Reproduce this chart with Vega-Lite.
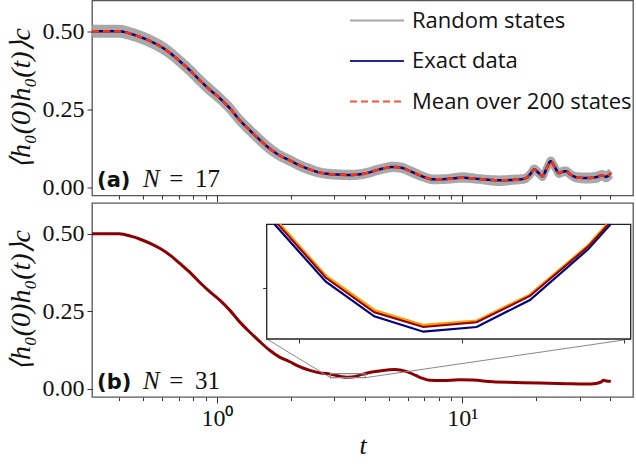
{
"$schema": "https://vega.github.io/schema/vega-lite/v6.json",
"padding": {"left": 6, "top": -7.5, "right": 1, "bottom": 1},
"background": "white",
"spacing": 7.5,
"bounds": "flush",
"config": {
  "view": {"stroke": "#555555", "strokeWidth": 1.3},
  "axis": {"domain": false, "grid": false, "tickColor": "#333333", "tickWidth": 1, "labelFont": "Liberation Serif, Times New Roman, serif", "labelFontSize": 24, "labelColor": "#111111", "titleFont": "Liberation Serif, Times New Roman, serif", "titleFontStyle": "italic", "titleFontWeight": "normal", "titleFontSize": 28, "titleColor": "#111111"},
  "legend": {"labelFont": "Open Sans", "labelFontSize": 22, "labelColor": "#111111", "labelLimit": 0}
},
"datasets": {
  "top": [
    {"t":0.31,"r1":0.512,"r2":0.490,"exact":0.501,"mean":0.501},
    {"t":0.40,"r1":0.512,"r2":0.490,"exact":0.501,"mean":0.501},
    {"t":0.45,"r1":0.503,"r2":0.481,"exact":0.492,"mean":0.492},
    {"t":0.49,"r1":0.493,"r2":0.471,"exact":0.482,"mean":0.482},
    {"t":0.54,"r1":0.479,"r2":0.457,"exact":0.468,"mean":0.468},
    {"t":0.59,"r1":0.463,"r2":0.441,"exact":0.452,"mean":0.452},
    {"t":0.65,"r1":0.439,"r2":0.419,"exact":0.429,"mean":0.429},
    {"t":0.71,"r1":0.413,"r2":0.393,"exact":0.403,"mean":0.403},
    {"t":0.78,"r1":0.384,"r2":0.364,"exact":0.374,"mean":0.374},
    {"t":0.85,"r1":0.354,"r2":0.334,"exact":0.344,"mean":0.344},
    {"t":0.94,"r1":0.322,"r2":0.302,"exact":0.312,"mean":0.312},
    {"t":1.03,"r1":0.294,"r2":0.276,"exact":0.285,"mean":0.285},
    {"t":1.13,"r1":0.262,"r2":0.244,"exact":0.253,"mean":0.253},
    {"t":1.24,"r1":0.224,"r2":0.206,"exact":0.215,"mean":0.215},
    {"t":1.36,"r1":0.192,"r2":0.174,"exact":0.183,"mean":0.183},
    {"t":1.50,"r1":0.160,"r2":0.142,"exact":0.151,"mean":0.151},
    {"t":1.64,"r1":0.133,"r2":0.115,"exact":0.124,"mean":0.124},
    {"t":1.80,"r1":0.110,"r2":0.094,"exact":0.102,"mean":0.102},
    {"t":1.98,"r1":0.094,"r2":0.078,"exact":0.086,"mean":0.086},
    {"t":2.17,"r1":0.078,"r2":0.062,"exact":0.070,"mean":0.070},
    {"t":2.39,"r1":0.065,"r2":0.049,"exact":0.057,"mean":0.057},
    {"t":2.62,"r1":0.054,"r2":0.040,"exact":0.047,"mean":0.047},
    {"t":2.88,"r1":0.049,"r2":0.035,"exact":0.042,"mean":0.042},
    {"t":3.16,"r1":0.047,"r2":0.033,"exact":0.040,"mean":0.040},
    {"t":3.48,"r1":0.046,"r2":0.032,"exact":0.039,"mean":0.039},
    {"t":3.81,"r1":0.048,"r2":0.034,"exact":0.041,"mean":0.041},
    {"t":4.12,"r1":0.053,"r2":0.039,"exact":0.046,"mean":0.046},
    {"t":4.46,"r1":0.061,"r2":0.047,"exact":0.054,"mean":0.054},
    {"t":4.83,"r1":0.068,"r2":0.054,"exact":0.061,"mean":0.061},
    {"t":5.21,"r1":0.072,"r2":0.058,"exact":0.065,"mean":0.065},
    {"t":5.72,"r1":0.068,"r2":0.054,"exact":0.061,"mean":0.061},
    {"t":6.10,"r1":0.059,"r2":0.045,"exact":0.052,"mean":0.052},
    {"t":6.47,"r1":0.050,"r2":0.036,"exact":0.043,"mean":0.043},
    {"t":7.00,"r1":0.038,"r2":0.026,"exact":0.032,"mean":0.032},
    {"t":7.57,"r1":0.031,"r2":0.019,"exact":0.025,"mean":0.025},
    {"t":8.58,"r1":0.032,"r2":0.020,"exact":0.026,"mean":0.026},
    {"t":10.0,"r1":0.038,"r2":0.024,"exact":0.030,"mean":0.030},
    {"t":11.7,"r1":0.032,"r2":0.020,"exact":0.026,"mean":0.026},
    {"t":14.1,"r1":0.028,"r2":0.013,"exact":0.022,"mean":0.022},
    {"t":16.0,"r1":0.030,"r2":0.017,"exact":0.023,"mean":0.023},
    {"t":17.9,"r1":0.033,"r2":0.021,"exact":0.027,"mean":0.027},
    {"t":18.8,"r1":0.046,"r2":0.034,"exact":0.040,"mean":0.040},
    {"t":19.6,"r1":0.063,"r2":0.051,"exact":0.057,"mean":0.057},
    {"t":20.4,"r1":0.052,"r2":0.040,"exact":0.046,"mean":0.046},
    {"t":21.2,"r1":0.041,"r2":0.029,"exact":0.035,"mean":0.035},
    {"t":22.0,"r1":0.066,"r2":0.054,"exact":0.060,"mean":0.060},
    {"t":22.9,"r1":0.089,"r2":0.077,"exact":0.083,"mean":0.083},
    {"t":23.8,"r1":0.070,"r2":0.058,"exact":0.064,"mean":0.064},
    {"t":24.7,"r1":0.051,"r2":0.039,"exact":0.045,"mean":0.045},
    {"t":25.5,"r1":0.055,"r2":0.043,"exact":0.049,"mean":0.049},
    {"t":26.4,"r1":0.057,"r2":0.045,"exact":0.051,"mean":0.051},
    {"t":27.6,"r1":0.046,"r2":0.034,"exact":0.040,"mean":0.040},
    {"t":29.0,"r1":0.039,"r2":0.025,"exact":0.032,"mean":0.032},
    {"t":31.9,"r1":0.037,"r2":0.021,"exact":0.029,"mean":0.029},
    {"t":35.0,"r1":0.040,"r2":0.023,"exact":0.032,"mean":0.032},
    {"t":37.1,"r1":0.045,"r2":0.031,"exact":0.038,"mean":0.038},
    {"t":38.4,"r1":0.042,"r2":0.025,"exact":0.033,"mean":0.033},
    {"t":40.2,"r1":0.052,"r2":0.038,"exact":0.045,"mean":0.045}
  ],
  "bottom": [
    {"t":0.31,"v":0.501},{"t":0.40,"v":0.501},{"t":0.45,"v":0.492},{"t":0.49,"v":0.482},
    {"t":0.54,"v":0.468},{"t":0.59,"v":0.452},{"t":0.65,"v":0.429},{"t":0.71,"v":0.403},
    {"t":0.78,"v":0.374},{"t":0.85,"v":0.344},{"t":0.94,"v":0.312},{"t":1.03,"v":0.285},
    {"t":1.13,"v":0.253},{"t":1.24,"v":0.215},{"t":1.36,"v":0.183},{"t":1.50,"v":0.151},
    {"t":1.64,"v":0.124},{"t":1.80,"v":0.102},{"t":1.98,"v":0.087},{"t":2.17,"v":0.071},
    {"t":2.39,"v":0.059},{"t":2.62,"v":0.051},{"t":2.80,"v":0.049},{"t":2.94,"v":0.046},
    {"t":3.08,"v":0.0424},{"t":3.23,"v":0.0385},{"t":3.38,"v":0.0369},{"t":3.55,"v":0.0374},
    {"t":3.71,"v":0.0404},{"t":3.89,"v":0.046},{"t":4.07,"v":0.050},{"t":4.40,"v":0.055},
    {"t":4.74,"v":0.059},{"t":5.29,"v":0.062},{"t":5.90,"v":0.056},{"t":6.48,"v":0.042},
    {"t":6.90,"v":0.033},{"t":7.35,"v":0.027},{"t":8.31,"v":0.026},{"t":9.73,"v":0.029},
    {"t":11.0,"v":0.028},{"t":13.3,"v":0.022},{"t":16.5,"v":0.020},{"t":20.5,"v":0.018},
    {"t":26.4,"v":0.016},{"t":31.8,"v":0.015},{"t":35.0,"v":0.017},{"t":36.8,"v":0.022},
    {"t":37.6,"v":0.027},{"t":38.5,"v":0.025},{"t":40.2,"v":0.024}
  ],
  "inset": [
    {"s":"navy","t":2.924,"v":0.0485},{"s":"navy","t":3.082,"v":0.04199},{"s":"navy","t":3.231,"v":0.03807},
    {"s":"navy","t":3.382,"v":0.03633},{"s":"navy","t":3.546,"v":0.03686},{"s":"navy","t":3.710,"v":0.03992},
    {"s":"navy","t":3.889,"v":0.04567},{"s":"navy","t":3.958,"v":0.0485},
    {"s":"orange","t":2.940,"v":0.0485},{"s":"orange","t":3.082,"v":0.04264},{"s":"orange","t":3.231,"v":0.03875},
    {"s":"orange","t":3.382,"v":0.03705},{"s":"orange","t":3.546,"v":0.03754},{"s":"orange","t":3.710,"v":0.04049},
    {"s":"orange","t":3.889,"v":0.04607},{"s":"orange","t":3.948,"v":0.0485},
    {"s":"darkred","t":2.935,"v":0.0485},{"s":"darkred","t":3.082,"v":0.04244},{"s":"darkred","t":3.231,"v":0.03853},
    {"s":"darkred","t":3.382,"v":0.03687},{"s":"darkred","t":3.546,"v":0.03740},{"s":"darkred","t":3.710,"v":0.04038},
    {"s":"darkred","t":3.889,"v":0.04597},{"s":"darkred","t":3.951,"v":0.0485}
  ]
},
"vconcat": [
  {
    "width": 541, "height": 195,
    "layer": [
      {"data": {"name": "top"},
       "transform": [{"fold": ["r1","r2"], "as": ["key","v"]}],
       "mark": {"type": "line", "strokeWidth": 6, "interpolate": "monotone", "opacity": 0.85},
       "encoding": {
         "x": {"field": "t", "type": "quantitative", "scale": {"type": "log", "domain": [0.31, 49.5], "nice": false},
               "axis": {"values": [0.4,0.5,0.6,0.7,0.8,0.9,1,2,3,4,5,6,7,8,9,10,20,30,40], "labels": false, "title": null,
                        "tickSize": {"condition": {"test": "datum.value == 1 || datum.value == 10", "value": 6}, "value": 3.5}}},
         "y": {"field": "v", "type": "quantitative", "scale": {"domain": [-0.027, 0.6], "nice": false, "zero": false},
               "axis": {"values": [0, 0.25, 0.5], "format": ".2f", "tickSize": 5, "labelPadding": 3, "title": "⟨h₀(0)h₀(t)⟩c", "titlePadding": 7}},
         "color": {"field": "key", "type": "nominal", "scale": {"domain": ["r1","r2","exact","mean"], "range": ["#999999","#999999","#000080","#ff3311"]},
                   "legend": {"values": ["r1","exact","mean"], "labelExpr": "datum.value == 'r1' ? 'Random states' : datum.value == 'exact' ? 'Exact data' : 'Mean over 200 states'", "title": null, "orient": "none", "legendX": 257, "legendY": -8, "symbolType": "stroke", "symbolSize": 2916, "symbolStrokeWidth": 2, "rowPadding": 1.5, "labelOffset": 7, "padding": 0}},
         "strokeDash": {"field": "key", "type": "nominal", "scale": {"domain": ["r1","r2","exact","mean"], "range": [[1,0],[1,0],[1,0],[7,4]]},
                   "legend": {"values": ["r1","exact","mean"], "labelExpr": "datum.value == 'r1' ? 'Random states' : datum.value == 'exact' ? 'Exact data' : 'Mean over 200 states'", "title": null, "orient": "none", "legendX": 257, "legendY": -8, "symbolType": "stroke", "symbolSize": 2916, "symbolStrokeWidth": 2, "rowPadding": 1.5, "labelOffset": 7, "padding": 0}}
       }},
      {"data": {"name": "top"},
       "transform": [{"fold": ["exact"], "as": ["key","v"]}],
       "mark": {"type": "line", "strokeWidth": 2.5, "interpolate": "monotone"},
       "encoding": {
         "x": {"field": "t", "type": "quantitative"},
         "y": {"field": "v", "type": "quantitative"},
         "color": {"field": "key", "type": "nominal", "scale": {"domain": ["r1","r2","exact","mean"], "range": ["#999999","#999999","#000080","#ff3311"]},
                   "legend": {"values": ["r1","exact","mean"], "labelExpr": "datum.value == 'r1' ? 'Random states' : datum.value == 'exact' ? 'Exact data' : 'Mean over 200 states'", "title": null, "orient": "none", "legendX": 257, "legendY": -8, "symbolType": "stroke", "symbolSize": 2916, "symbolStrokeWidth": 2, "rowPadding": 1.5, "labelOffset": 7, "padding": 0}},
         "strokeDash": {"field": "key", "type": "nominal", "scale": {"domain": ["r1","r2","exact","mean"], "range": [[1,0],[1,0],[1,0],[7,4]]},
                   "legend": {"values": ["r1","exact","mean"], "labelExpr": "datum.value == 'r1' ? 'Random states' : datum.value == 'exact' ? 'Exact data' : 'Mean over 200 states'", "title": null, "orient": "none", "legendX": 257, "legendY": -8, "symbolType": "stroke", "symbolSize": 2916, "symbolStrokeWidth": 2, "rowPadding": 1.5, "labelOffset": 7, "padding": 0}}
       }},
      {"data": {"name": "top"},
       "transform": [{"fold": ["mean"], "as": ["key","v"]}],
       "mark": {"type": "line", "strokeWidth": 2.5, "interpolate": "monotone"},
       "encoding": {
         "x": {"field": "t", "type": "quantitative"},
         "y": {"field": "v", "type": "quantitative"},
         "color": {"field": "key", "type": "nominal", "scale": {"domain": ["r1","r2","exact","mean"], "range": ["#999999","#999999","#000080","#ff3311"]},
                   "legend": {"values": ["r1","exact","mean"], "labelExpr": "datum.value == 'r1' ? 'Random states' : datum.value == 'exact' ? 'Exact data' : 'Mean over 200 states'", "title": null, "orient": "none", "legendX": 257, "legendY": -8, "symbolType": "stroke", "symbolSize": 2916, "symbolStrokeWidth": 2, "rowPadding": 1.5, "labelOffset": 7, "padding": 0}},
         "strokeDash": {"field": "key", "type": "nominal", "scale": {"domain": ["r1","r2","exact","mean"], "range": [[1,0],[1,0],[1,0],[7,4]]},
                   "legend": {"values": ["r1","exact","mean"], "labelExpr": "datum.value == 'r1' ? 'Random states' : datum.value == 'exact' ? 'Exact data' : 'Mean over 200 states'", "title": null, "orient": "none", "legendX": 257, "legendY": -8, "symbolType": "stroke", "symbolSize": 2916, "symbolStrokeWidth": 2, "rowPadding": 1.5, "labelOffset": 7, "padding": 0}}
       }},
      {"data": {"values": [{"label": "(a)"}]},
       "mark": {"type": "text", "font": "DejaVu Sans", "fontWeight": "bold", "fontSize": 21, "align": "left", "baseline": "alphabetic", "color": "#111111"},
       "encoding": {"x": {"datum": 0.325}, "y": {"datum": 0}, "text": {"field": "label"}}},
      {"data": {"values": [{"label": "N"}]},
       "mark": {"type": "text", "font": "Liberation Serif", "fontStyle": "italic", "fontSize": 25, "align": "left", "baseline": "alphabetic", "color": "#111111"},
       "encoding": {"x": {"datum": 0.5}, "y": {"datum": 0}, "text": {"field": "label"}}},
      {"data": {"values": [{"label": "="}]},
       "mark": {"type": "text", "font": "Liberation Serif", "fontSize": 25, "align": "left", "baseline": "alphabetic", "color": "#111111"},
       "encoding": {"x": {"datum": 0.64}, "y": {"datum": 0}, "text": {"field": "label"}}},
      {"data": {"values": [{"label": "17"}]},
       "mark": {"type": "text", "font": "Liberation Serif", "fontSize": 25, "align": "left", "baseline": "alphabetic", "color": "#111111"},
       "encoding": {"x": {"datum": 0.8145}, "y": {"datum": 0}, "text": {"field": "label"}}}
    ]
  },
  {
    "width": 541, "height": 194,
    "layer": [
      {"layer": [
        {"data": {"name": "bottom"},
         "mark": {"type": "line", "color": "#8b0000", "strokeWidth": 3, "interpolate": "monotone"},
         "encoding": {
           "x": {"field": "t", "type": "quantitative", "scale": {"type": "log", "domain": [0.31, 49.5], "nice": false},
                 "axis": {"values": [0.4,0.5,0.6,0.7,0.8,0.9,1,2,3,4,5,6,7,8,9,10,20,30,40], "labelExpr": "datum.value == 1 ? '10⁰' : datum.value == 10 ? '10¹' : ''", "labelOverlap": false, "labelFlush": false, "labelPadding": 3, "title": "t", "titlePadding": 2, "titleFontSize": 26,
                          "tickSize": {"condition": {"test": "datum.value == 1 || datum.value == 10", "value": 6}, "value": 3.5}}},
           "y": {"field": "v", "type": "quantitative", "scale": {"domain": [-0.027, 0.6], "nice": false, "zero": false},
                 "axis": {"values": [0, 0.25, 0.5], "format": ".2f", "tickSize": 5, "labelPadding": 3, "title": "⟨h₀(0)h₀(t)⟩c", "titlePadding": 7}}
         }},
        {"data": {"values": [{}]},
         "mark": {"type": "rect", "fillOpacity": 0, "stroke": "#888888", "strokeWidth": 1.2},
         "encoding": {"x": {"datum": 2.9}, "x2": {"datum": 4.02}, "y": {"datum": 0.0355}, "y2": {"datum": 0.0485}}},
        {"data": {"values": [{}]},
         "mark": {"type": "rule", "stroke": "#888888", "strokeWidth": 1},
         "encoding": {"x": {"datum": 2.9}, "y": {"datum": 0.0355}, "x2": {"datum": 1.596}, "y2": {"datum": 0.1605}}},
        {"data": {"values": [{}]},
         "mark": {"type": "rule", "stroke": "#888888", "strokeWidth": 1},
         "encoding": {"x": {"datum": 4.02}, "y": {"datum": 0.0355}, "x2": {"datum": 48.45}, "y2": {"datum": 0.1605}}},
        {"data": {"values": [{"label": "(b)"}]},
         "mark": {"type": "text", "font": "DejaVu Sans", "fontWeight": "bold", "fontSize": 21, "align": "left", "baseline": "alphabetic", "color": "#111111"},
         "encoding": {"x": {"datum": 0.325}, "y": {"datum": 0}, "text": {"field": "label"}}},
        {"data": {"values": [{"label": "N"}]},
         "mark": {"type": "text", "font": "Liberation Serif", "fontStyle": "italic", "fontSize": 25, "align": "left", "baseline": "alphabetic", "color": "#111111"},
         "encoding": {"x": {"datum": 0.5}, "y": {"datum": 0}, "text": {"field": "label"}}},
        {"data": {"values": [{"label": "="}]},
         "mark": {"type": "text", "font": "Liberation Serif", "fontSize": 25, "align": "left", "baseline": "alphabetic", "color": "#111111"},
         "encoding": {"x": {"datum": 0.64}, "y": {"datum": 0}, "text": {"field": "label"}}},
        {"data": {"values": [{"label": "31"}]},
         "mark": {"type": "text", "font": "Liberation Serif", "fontSize": 25, "align": "left", "baseline": "alphabetic", "color": "#111111"},
         "encoding": {"x": {"datum": 0.8145}, "y": {"datum": 0}, "text": {"field": "label"}}}
      ]},
      {"data": {"name": "inset"},
       "layer": [
        {"data": {"values": [{}]},
         "mark": {"type": "rect", "fill": "white", "stroke": "#222222", "strokeWidth": 1.3},
         "encoding": {
           "x": {"datum": 2.9, "type": "quantitative", "scale": {"type": "linear", "domain": [2.9, 4.02], "range": [174.7, 538.7], "nice": false, "zero": false},
                 "axis": {"orient": "bottom", "offset": -58, "values": [3, 3.5, 4], "labels": false, "tickSize": 4, "title": null}},
           "x2": {"datum": 4.02},
           "y": {"datum": 0.0355, "type": "quantitative", "scale": {"domain": [0.0355, 0.0485], "range": [136, 21.3], "nice": false, "zero": false},
                 "axis": {"orient": "left", "offset": -174.7, "values": [0.0413], "labels": false, "tickSize": 4, "title": null}},
           "y2": {"datum": 0.0485}}},
        {"transform": [{"filter": "datum.s == 'navy'"}],
         "mark": {"type": "line", "color": "#000080", "strokeWidth": 2.2},
         "encoding": {"x": {"field": "t", "type": "quantitative", "axis": {"orient": "bottom", "offset": -58, "values": [3, 3.5, 4], "labels": false, "tickSize": 4, "title": null}},
                      "y": {"field": "v", "type": "quantitative", "axis": {"orient": "left", "offset": -174.7, "values": [0.0413], "labels": false, "tickSize": 4, "title": null}}}},
        {"transform": [{"filter": "datum.s == 'orange'"}],
         "mark": {"type": "line", "color": "#ff9900", "strokeWidth": 3},
         "encoding": {"x": {"field": "t", "type": "quantitative", "axis": {"orient": "bottom", "offset": -58, "values": [3, 3.5, 4], "labels": false, "tickSize": 4, "title": null}},
                      "y": {"field": "v", "type": "quantitative", "axis": {"orient": "left", "offset": -174.7, "values": [0.0413], "labels": false, "tickSize": 4, "title": null}}}},
        {"transform": [{"filter": "datum.s == 'darkred'"}],
         "mark": {"type": "line", "color": "#8b0000", "strokeWidth": 2},
         "encoding": {"x": {"field": "t", "type": "quantitative", "axis": {"orient": "bottom", "offset": -58, "values": [3, 3.5, 4], "labels": false, "tickSize": 4, "title": null}},
                      "y": {"field": "v", "type": "quantitative", "axis": {"orient": "left", "offset": -174.7, "values": [0.0413], "labels": false, "tickSize": 4, "title": null}}}}
       ]}
    ],
    "resolve": {"scale": {"x": "independent", "y": "independent"}}
  }
]
}
